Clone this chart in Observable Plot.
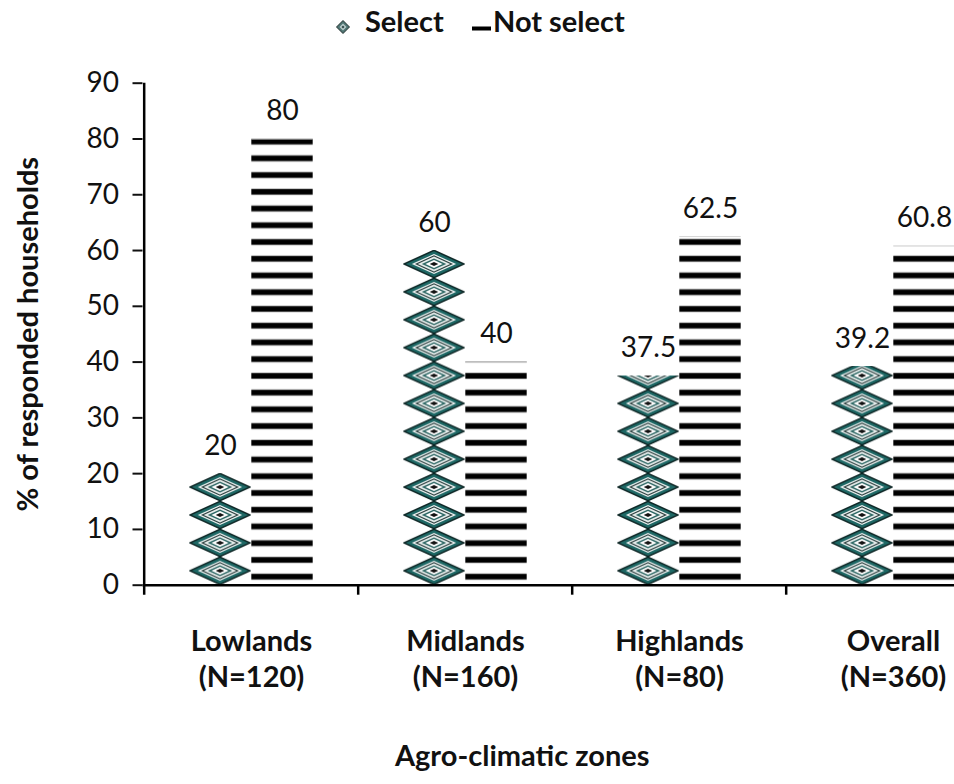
<!DOCTYPE html>
<html>
<head>
<meta charset="utf-8">
<script src="https://cdn.jsdelivr.net/npm/d3@7"></script>
<script src="https://cdn.jsdelivr.net/npm/@observablehq/plot@0.6"></script>
<style>
  html, body { margin: 0; padding: 0; background: #fff; overflow: hidden; }
  body { width: 954px; height: 784px; font-family: Lato, "Open Sans", sans-serif; color: #111; }
  #legend { position: relative; width: 954px; height: 40px; }
  #legend .item { position: absolute; top: 6px; font-size: 29px; font-weight: 700; line-height: 1; white-space: nowrap; }
  #legend svg { position: absolute; }
</style>
</head>
<body>
<div id="legend"></div>
<div id="chart"></div>
<script>
// ---- data ----
const zones = ["Lowlands", "Midlands", "Highlands", "Overall"];
const sampleSizes = [120, 160, 80, 360];
const selectPct = [20, 60, 37.5, 39.2];
const notSelectPct = [80, 40, 62.5, 60.8];
const seriesNames = ["Select", "Not select"];
const yTicks = [0, 10, 20, 30, 40, 50, 60, 70, 80, 90];
const yTitle = "% of responded households";
const xTitle = "Agro-climatic zones";
const diamondUnit = 5;   // y units covered by one stacked diamond picture
const stripeUnit = 3;    // y units per stripe repeat

const selectData = zones.map((z, i) => ({zone: z, value: selectPct[i], series: seriesNames[0]}));
const notSelectData = zones.map((z, i) => ({zone: z, value: notSelectPct[i], series: seriesNames[1]}));

// ---- layout ----
const W = 954, H = 744;
const mLeft = 142.5, mRight = -47, mTop = 42.7, mBottom = 199.3;
const step = (W - mRight - mLeft) / zones.length;
const barW = 62;
const fs = 28;

const selIn = {insetLeft: step / 2 - barW, insetRight: step / 2};
const notIn = {insetLeft: step / 2, insetRight: step / 2 - barW};

const plot = Plot.plot({
  width: W,
  height: H,
  marginLeft: mLeft,
  marginRight: mRight,
  marginTop: mTop,
  marginBottom: mBottom,
  style: {fontFamily: "Lato, 'Open Sans', sans-serif", background: "#fff", overflow: "hidden", color: "#111"},
  x: {type: "band", domain: zones, padding: 0},
  y: {domain: [0, d3.max(yTicks)]},
  marks: [
    Plot.barY(selectData, {x: "zone", y: "value", ...selIn, fill: "#1f6e6a", ariaDescription: "select-bars"}),
    Plot.barY(notSelectData, {x: "zone", y: "value", ...notIn, fill: "#000", ariaDescription: "notselect-bars"}),
    Plot.tickY(notSelectData, {x: "zone", y: "value", ...notIn, stroke: "#d4d4d4", strokeWidth: 1}),
    Plot.text(selectData, {x: "zone", y: "value", text: d => String(d.value), dx: -barW / 2, dy: -19, lineAnchor: "bottom", fontSize: fs, fill: "#111"}),
    Plot.text(notSelectData, {x: "zone", y: "value", text: d => String(d.value), dx: barW / 2, dy: -19, lineAnchor: "bottom", fontSize: fs, fill: "#111"}),
    // axes
    Plot.axisY({ticks: yTicks, tickSize: 10, tickPadding: 14, tickFormat: d => String(d), fontSize: fs, strokeWidth: 2, label: null}),
    Plot.ruleY([0], {stroke: "#000", strokeWidth: 2.5}),
    Plot.ruleX([zones[0]], {x: d => d, dx: -step / 2, y1: d3.max(yTicks), y2: 0, insetBottom: -10, stroke: "#000", strokeWidth: 2.5}),
    Plot.ruleX(zones.slice(1), {x: d => d, dx: -step / 2, y1: 0, y2: 0, insetBottom: -10, stroke: "#000", strokeWidth: 2.5}),
    Plot.axisX({tickSize: 0, tickPadding: 40, tickFormat: z => `${z}\n(N=${sampleSizes[zones.indexOf(z)]})`, fontSize: 29, fontWeight: "bold", lineHeight: 1.25, label: null}),
    Plot.text([yTitle], {frameAnchor: "left", text: d => d, rotate: -90, textAnchor: "middle", dx: -114, fontSize: 29, fontWeight: "bold", fill: "#111"}),
    Plot.text([xTitle], {frameAnchor: "bottom", text: d => d, textAnchor: "middle", dx: -50, dy: 181, fontSize: 29, fontWeight: "bold", fill: "#111"})
  ]
});
document.getElementById("chart").appendChild(plot);

// ---- picture-stack fills (like the spreadsheet's pattern fills) ----
const ns = "http://www.w3.org/2000/svg";
const svg = plot.tagName.toLowerCase() === "svg" ? plot : plot.querySelector("svg");
const yScale = plot.scale("y");
const yBase = yScale.apply(0);
const dH = yBase - yScale.apply(diamondUnit);
const sH = yBase - yScale.apply(stripeUnit);
const defs = document.createElementNS(ns, "defs");
svg.insertBefore(defs, svg.firstChild);

function el(tag, attrs, parent) {
  const e = document.createElementNS(ns, tag);
  for (const k in attrs) e.setAttribute(k, attrs[k]);
  if (parent) parent.appendChild(e);
  return e;
}
function diamondPts(w, h, s) {
  const cx = w / 2, cy = h / 2, rx = s * w / 2, ry = s * h / 2;
  return `${cx},${cy - ry} ${cx + rx},${cy} ${cx},${cy + ry} ${cx - rx},${cy}`;
}

svg.querySelectorAll('g[aria-description="select-bars"] rect').forEach((r, i) => {
  const x = +r.getAttribute("x"), w = +r.getAttribute("width");
  const p = el("pattern", {id: `dia${i}`, patternUnits: "userSpaceOnUse", x, y: yBase, width: w, height: dH}, defs);
  el("polygon", {points: diamondPts(w, dH, 0.98), fill: "#1d6764", stroke: "#0b2423", "stroke-width": 1.4}, p);
  el("polygon", {points: diamondPts(w, dH, 0.72), fill: "#f4f7f7"}, p);
  el("polygon", {points: diamondPts(w, dH, 0.62), fill: "#263b3a"}, p);
  el("polygon", {points: diamondPts(w, dH, 0.53), fill: "#e9efee"}, p);
  el("polygon", {points: diamondPts(w, dH, 0.40), fill: "#2c6663"}, p);
  el("polygon", {points: diamondPts(w, dH, 0.28), fill: "#ffffff"}, p);
  el("polygon", {points: diamondPts(w, dH, 0.14), fill: "#111"}, p);
  r.setAttribute("fill", `url(#dia${i})`);
});

svg.querySelectorAll('g[aria-description="notselect-bars"] rect').forEach((r, i) => {
  const x = +r.getAttribute("x"), w = +r.getAttribute("width");
  const p = el("pattern", {id: `str${i}`, patternUnits: "userSpaceOnUse", x, y: yBase, width: w, height: sH}, defs);
  el("rect", {x: 0, y: 0, width: w, height: sH, fill: "#fff"}, p);
  const c = sH - sH * 0.48;
  el("rect", {x: 0, y: c - 3.3, width: w, height: 6.6, fill: "#9a9a9a"}, p);
  el("rect", {x: 0, y: c - 2.6, width: w, height: 5.2, fill: "#000"}, p);
  r.setAttribute("fill", `url(#str${i})`);
});

// ---- legend (above the plot) ----
const legend = document.getElementById("legend");
const legendItems = [
  {name: seriesNames[0], swatchLeft: 336, textLeft: 365},
  {name: seriesNames[1], swatchLeft: 472, textLeft: 493}
];
legendItems.forEach((it, k) => {
  const s = document.createElementNS(ns, "svg");
  if (k === 0) {
    s.setAttribute("width", 14); s.setAttribute("height", 14);
    s.style.left = it.swatchLeft + "px"; s.style.top = "20px";
    el("polygon", {points: "7,0.5 13.5,7 7,13.5 0.5,7", fill: "#4f7573", stroke: "#22302f", "stroke-width": 1}, s);
    el("polygon", {points: "7,3.5 10.5,7 7,10.5 3.5,7", fill: "#b9cbca"}, s);
    el("polygon", {points: "7,5.5 8.5,7 7,8.5 5.5,7", fill: "#2d4544"}, s);
  } else {
    s.setAttribute("width", 19); s.setAttribute("height", 5);
    s.style.left = it.swatchLeft + "px"; s.style.top = "26px";
    el("rect", {x: 0, y: 0.5, width: 19, height: 4, fill: "#000"}, s);
  }
  legend.appendChild(s);
  const t = document.createElement("span");
  t.className = "item";
  t.style.left = it.textLeft + "px";
  t.textContent = it.name;
  legend.appendChild(t);
});
</script>
</body>
</html>
